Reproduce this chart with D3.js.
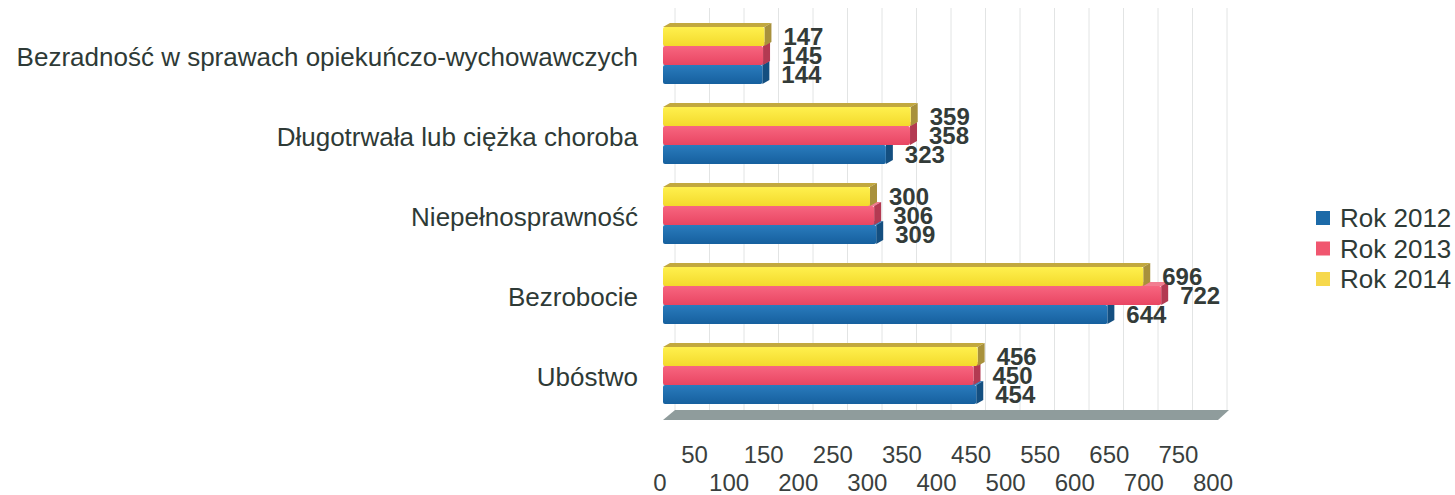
<!DOCTYPE html>
<html>
<head>
<meta charset="utf-8">
<script src="https://cdn.jsdelivr.net/npm/d3@7"></script>
<style>
  body { margin: 0; background: #fff; }
  svg { font-family: "Liberation Sans", Arial, sans-serif; }
</style>
</head>
<body>
<div id="chart"></div>
<script>
var categories = ["Bezradność w sprawach opiekuńczo-wychowawczych", "Długotrwała lub ciężka choroba", "Niepełnosprawność", "Bezrobocie", "Ubóstwo"];
var seriesNames = ["Rok 2012", "Rok 2013", "Rok 2014"];
var rok2012 = [144, 323, 309, 644, 454];
var rok2013 = [145, 358, 306, 722, 450];
var rok2014 = [147, 359, 300, 696, 456];
var ticksTop = [50, 150, 250, 350, 450, 550, 650, 750];
var ticksBottom = [0, 100, 200, 300, 400, 500, 600, 700, 800];

var w = 1455, h = 495;
var dx = 7, dy = -4;   // 3d depth

var colors = {
  "Rok 2012": {front: ["#2a7bbd", "#16609e"], side: "#144f80", top: "#3f86c0", legend: "#1c6aa8"},
  "Rok 2013": {front: ["#f76680", "#e94562"], side: "#b33a52", top: "#f27d90", legend: "#f0566f"},
  "Rok 2014": {front: ["#fff04e", "#f3da2c"], side: "#a8913c", top: "#c2a83e", legend: "#f6d84c"}
};
var values = {"Rok 2012": rok2012, "Rok 2013": rok2013, "Rok 2014": rok2014};

var svg = d3.select("#chart").append("svg")
  .attr("width", w)
  .attr("height", h);

var defs = svg.append("defs");
seriesNames.forEach(function(s, i) {
  var g = defs.append("linearGradient")
    .attr("id", "grad" + i)
    .attr("x1", 0).attr("y1", 0).attr("x2", 0).attr("y2", 1);
  g.append("stop").attr("offset", "0%").attr("stop-color", colors[s].front[0]);
  g.append("stop").attr("offset", "100%").attr("stop-color", colors[s].front[1]);
});

var x = d3.scaleLinear().domain([0, 800]).range([663, 1215]);
// tick labels sit on the front edge, a touch left of the bars
var xLab = d3.scaleLinear().domain([0, 800]).range([660, 1213]);
var y = d3.scaleBand().domain(categories).range([27, 404]).paddingInner(0.2875).paddingOuter(0);
var ySub = d3.scaleBand().domain(["Rok 2014", "Rok 2013", "Rok 2012"]).range([0, y.bandwidth()]);

// back wall grid
svg.append("g").selectAll("line")
  .data(d3.range(0, 801, 50))
  .enter().append("line")
  .attr("x1", function(d) { return x(d) + 12; })
  .attr("x2", function(d) { return x(d) + 12; })
  .attr("y1", 8)
  .attr("y2", 410)
  .attr("stroke", "#e2e4e4")
  .attr("stroke-width", 1);

// floor
svg.append("polygon")
  .attr("points", [[x(0), 420], [x(800) + 3, 420], [x(800) + 14, 410], [x(0) + 12, 410]].map(function(p) { return p.join(","); }).join(" "))
  .attr("fill", "#8f9c9c");

// bars: draw bottom series first so the upper bar covers its top face
var bars = svg.append("g");
["Rok 2012", "Rok 2013", "Rok 2014"].forEach(function(s) {
  var gi = seriesNames.indexOf(s);
  categories.forEach(function(c, i) {
    var v = values[s][i];
    var y0 = y(c) + ySub(s);
    var bh = ySub.bandwidth();
    var x0 = x(0), x1 = x(v);
    // top face
    bars.append("polygon")
      .attr("points", [[x0, y0], [x1, y0], [x1 + dx, y0 + dy], [x0 + dx, y0 + dy]].join(" "))
      .attr("fill", colors[s].top);
    // side face
    bars.append("polygon")
      .attr("points", [[x1, y0], [x1 + dx, y0 + dy], [x1 + dx, y0 + bh + dy], [x1, y0 + bh]].join(" "))
      .attr("fill", colors[s].side);
    // front face
    bars.append("rect")
      .attr("x", x0)
      .attr("y", y0)
      .attr("width", x1 - x0)
      .attr("height", bh)
      .attr("rx", 2)
      .attr("fill", "url(#grad" + gi + ")");
  });
});

// value labels
var labels = svg.append("g")
  .attr("font-size", 24)
  .attr("font-weight", "bold")
  .attr("fill", "#333b38");
seriesNames.forEach(function(s) {
  categories.forEach(function(c, i) {
    var v = values[s][i];
    labels.append("text")
      .attr("x", x(v) + 19)
      .attr("y", y(c) + ySub(s) + ySub.bandwidth() / 2)
      .attr("dy", "0.36em")
      .text(v);
  });
});

// category labels
svg.append("g").selectAll("text")
  .data(categories)
  .enter().append("text")
  .attr("x", 638)
  .attr("y", function(d) { return y(d) + y.bandwidth() / 2; })
  .attr("dy", "0.4em")
  .attr("text-anchor", "end")
  .attr("font-size", 26)
  .attr("fill", "#2e3a36")
  .text(function(d) { return d; });

// axis labels, two staggered rows
var axis = svg.append("g").attr("font-size", 24).attr("fill", "#3a3f3e").attr("text-anchor", "middle");
axis.selectAll("text.top")
  .data(ticksTop)
  .enter().append("text")
  .attr("class", "top")
  .attr("x", function(d) { return xLab(d); })
  .attr("y", 463)
  .text(function(d) { return d; });
axis.selectAll("text.bottom")
  .data(ticksBottom)
  .enter().append("text")
  .attr("class", "bottom")
  .attr("x", function(d) { return xLab(d); })
  .attr("y", 491)
  .text(function(d) { return d; });

// legend
var legend = svg.append("g");
seriesNames.forEach(function(s, i) {
  var ly = 218 + i * 30.5;
  legend.append("rect")
    .attr("x", 1316)
    .attr("y", ly - 7)
    .attr("width", 14)
    .attr("height", 14)
    .attr("fill", colors[s].legend);
  legend.append("text")
    .attr("x", 1340)
    .attr("y", ly)
    .attr("dy", "0.36em")
    .attr("font-size", 26)
    .attr("fill", "#2e3a36")
    .text(s);
});
</script>
</body>
</html>
